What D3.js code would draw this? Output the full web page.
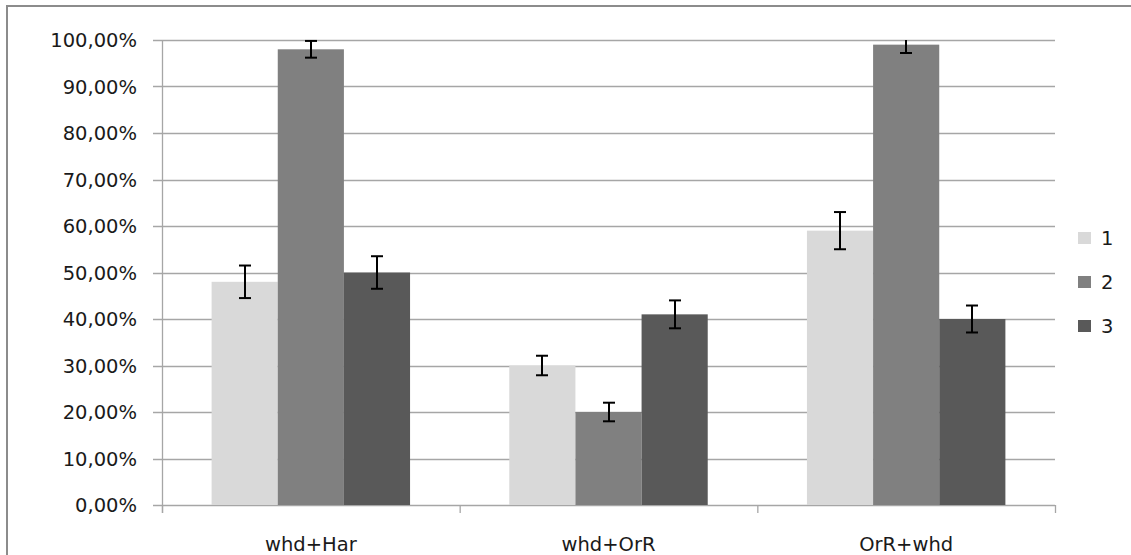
<!DOCTYPE html>
<html>
<head>
<meta charset="utf-8">
<script src="https://cdn.jsdelivr.net/npm/d3@7"></script>
<style>
  body { margin: 0; background: #fff; }
  svg text { font-family: "DejaVu Sans", Verdana, sans-serif; fill: #1a1a1a; }
</style>
</head>
<body>
<svg id="chart" width="1131" height="555"></svg>
<script>
// Chart data
const categories = ["whd+Har", "whd+OrR", "OrR+whd"];
const seriesNames = ["1", "2", "3"];
const seriesValues = [
    [48, 30, 59],   // series 1
    [98, 20, 99],   // series 2
    [50, 41, 40]    // series 3
];
const seriesErrors = [
    [3.5, 2.1, 4.0],
    [1.8, 2.0, 1.8],
    [3.5, 3.0, 2.9]
];
const yTicks = [0, 10, 20, 30, 40, 50, 60, 70, 80, 90, 100];
const colors = ["#d9d9d9", "#808080", "#595959"];

const svg = d3.select("#chart");
const plot = { left: 162, right: 1055, top: 40, bottom: 505 };
const fontSize = "19.5px";

// Outer frame
svg.append("rect")
    .attr("x", 7).attr("y", 6)
    .attr("width", 1140).attr("height", 560)
    .attr("fill", "none")
    .attr("stroke", "#8c8c8c")
    .attr("stroke-width", 2);

const x = d3.scaleBand().domain(categories).range([plot.left, plot.right]);
const y = d3.scaleLinear().domain([0, 100]).range([plot.bottom, plot.top]);

// Gridlines
svg.append("g")
    .selectAll("line")
    .data(yTicks)
    .enter()
    .append("line")
    .attr("x1", plot.left - 9)
    .attr("x2", plot.right)
    .attr("y1", d => Math.round(y(d)) + 0.5)
    .attr("y2", d => Math.round(y(d)) + 0.5)
    .attr("stroke", "#a6a6a6")
    .attr("stroke-width", 1.3);

// Y labels
svg.append("g")
    .selectAll("text")
    .data(yTicks)
    .enter()
    .append("text")
    .attr("x", 137)
    .attr("y", d => y(d))
    .attr("dy", "0.36em")
    .attr("text-anchor", "end")
    .style("font-size", fontSize)
    .text(d => d.toFixed(2).replace(".", ",") + "%");

// Bars
const bandW = x.bandwidth();
const barW = bandW / 4.5;
const offset = bandW * 0.75 / 4.5;

const groups = svg.append("g")
    .selectAll("g")
    .data(seriesValues)
    .enter()
    .append("g");

groups.selectAll("rect")
    .data((vals, s) => vals.map((v, i) => ({ s, i, v })))
    .enter()
    .append("rect")
    .attr("x", d => x(categories[d.i]) + offset + d.s * barW)
    .attr("y", d => y(d.v))
    .attr("width", barW)
    .attr("height", d => y(0) - y(d.v))
    .attr("fill", d => colors[d.s]);

// Axes lines
svg.append("line")
    .attr("x1", plot.left + 0.5).attr("x2", plot.left + 0.5)
    .attr("y1", plot.top).attr("y2", plot.bottom + 8)
    .attr("stroke", "#a6a6a6").attr("stroke-width", 1.3);

svg.append("g")
    .selectAll("line")
    .data(categories.concat(["end"]))
    .enter()
    .append("line")
    .attr("x1", (d, i) => plot.left + i * bandW + 0.5)
    .attr("x2", (d, i) => plot.left + i * bandW + 0.5)
    .attr("y1", plot.bottom)
    .attr("y2", plot.bottom + 8)
    .attr("stroke", "#a6a6a6").attr("stroke-width", 1.3);

// Error bars
const errs = [];
seriesValues.forEach((vals, s) => vals.forEach((v, i) => errs.push({ s, i, v, e: seriesErrors[s][i] })));
const capW = 6;
const eg = svg.append("g").attr("stroke", "#000").attr("stroke-width", 2);
errs.forEach(d => {
    const cx = Math.round(x(categories[d.i]) + offset + d.s * barW + barW / 2);
    const hi = Math.min(d.v + d.e, 100);
    const lo = d.v - d.e;
    eg.append("line").attr("x1", cx).attr("x2", cx).attr("y1", y(hi)).attr("y2", y(lo));
    if (d.v + d.e <= 100) {
        eg.append("line").attr("x1", cx - capW).attr("x2", cx + capW).attr("y1", y(hi)).attr("y2", y(hi));
    }
    eg.append("line").attr("x1", cx - capW).attr("x2", cx + capW).attr("y1", y(lo)).attr("y2", y(lo));
});

// Category labels
svg.append("g")
    .selectAll("text")
    .data(categories)
    .enter()
    .append("text")
    .attr("x", d => x(d) + bandW / 2)
    .attr("y", 551)
    .attr("text-anchor", "middle")
    .style("font-size", fontSize)
    .text(d => d);

// Legend
const legend = svg.append("g")
    .selectAll("g")
    .data(seriesNames)
    .enter()
    .append("g")
    .attr("transform", (d, i) => `translate(1078, ${238 + i * 44})`);

legend.append("rect")
    .attr("x", 0).attr("y", -6)
    .attr("width", 13).attr("height", 12)
    .attr("fill", (d, i) => colors[i]);

legend.append("text")
    .attr("x", 23)
    .attr("y", 0)
    .attr("dy", "0.36em")
    .style("font-size", fontSize)
    .text(d => d);
</script>
</body>
</html>
